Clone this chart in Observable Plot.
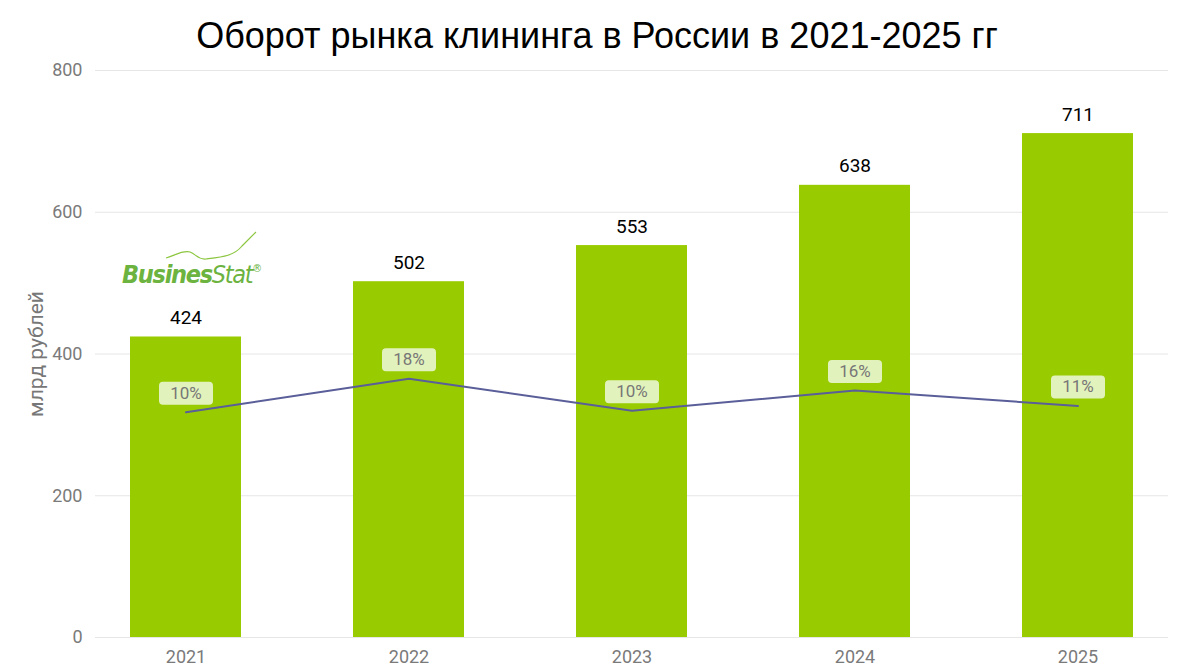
<!DOCTYPE html>
<html><head><meta charset="utf-8">
<script src="https://cdn.jsdelivr.net/npm/d3@7"></script>
<script src="https://cdn.jsdelivr.net/npm/@observablehq/plot@0.6"></script>
<style>
body{margin:0;background:#fff;width:1180px;height:672px;overflow:hidden;}
#wrap{position:relative;width:1180px;}
#title{height:60px;font-family:"Liberation Sans",Arial,sans-serif;font-size:36px;color:#000;text-align:center;line-height:72px;padding-left:14px;box-sizing:border-box;white-space:nowrap;}
#logo{position:absolute;left:122px;top:254px;font-family:"DejaVu Sans Condensed","DejaVu Sans",sans-serif;font-style:italic;font-weight:bold;font-size:25px;line-height:30px;color:#6cb33f;letter-spacing:-1.3px;}
#logo .s{font-weight:normal;color:#6cb33f;}
#logo sup{font-size:11px;font-style:normal;font-weight:normal;vertical-align:11px;letter-spacing:0;}
#logo svg{position:absolute;left:0;top:-24px;}
[aria-label="y-axis label"] text{font-size:21px;fill:#777;}
</style></head>
<body><div id="wrap"><div id="title">Оборот рынка клининга в России в 2021-2025 гг</div><div id="chart"></div>
<div id="logo"><svg width="140" height="40"><path d="M44 28 C52 26, 60 20, 68 22 C74 24, 76 30, 84 29 C100 27, 112 26, 120 16 C126 10, 130 6, 134 2" fill="none" stroke="#8cc63f" stroke-width="1.2"/></svg>Busines<span class="s">Stat</span><sup>®</sup></div>
</div>
<script>
const years = ["2021","2022","2023","2024","2025"];
const turnover = [424, 502, 553, 638, 711];
const growthPct = [9.8, 18.4, 10.2, 15.4, 11.4];
const growthLabels = ["10%","18%","10%","16%","11%"];
const yTicks = [0, 200, 400, 600, 800];
// secondary (percentage) axis mapped onto the primary axis range
const pctDomain = [-48, 97.5];
const yDomain = [0, 800];
const pctToY = d3.scaleLinear().domain(pctDomain).range(yDomain);

const data = years.map((y, i) => ({year: y, value: turnover[i], pct: growthPct[i], pctY: pctToY(growthPct[i]), pctLabel: growthLabels[i]}));

const boxSymbol = {
  draw(context) {
    const w = 54, h = 23, r = 4, x0 = -w/2, y0 = -h/2, x1 = w/2, y1 = h/2;
    context.moveTo(x0 + r, y0);
    context.lineTo(x1 - r, y0);
    context.arcTo(x1, y0, x1, y0 + r, r);
    context.lineTo(x1, y1 - r);
    context.arcTo(x1, y1, x1 - r, y1, r);
    context.lineTo(x0 + r, y1);
    context.arcTo(x0, y1, x0, y1 - r, r);
    context.lineTo(x0, y0 + r);
    context.arcTo(x0, y0, x0 + r, y0, r);
    context.closePath();
  }
};

const chart = Plot.plot({
  width: 1180,
  height: 612,
  marginTop: 10,
  marginBottom: 35,
  marginLeft: 95,
  marginRight: 12,
  style: {fontFamily: "Roboto, sans-serif", background: "#fff"},
  x: {domain: years, paddingInner: 0.504, paddingOuter: 0.152, label: null},
  y: {domain: yDomain, ticks: yTicks, label: "млрд рублей"},
  marks: [
    Plot.gridY(yTicks, {stroke: "#e6e6e6", strokeOpacity: 1, strokeWidth: 1}),
    Plot.barY(data, {x: "year", y: "value", fill: "#99cc00"}),
    Plot.axisY(yTicks, {tickSize: 0, tickPadding: 13, fontSize: 18, fill: "#7a7a7a", label: "млрд рублей", labelAnchor: "center", labelArrow: "none", labelOffset: 67, color: "#777"}),
    Plot.axisX({tickSize: 0, tickPadding: 13, fontSize: 18, fill: "#7a7a7a", label: null}),
    Plot.text(data, {x: "year", y: "value", text: d => String(d.value), dy: -19, fontSize: 19, fontWeight: 400, fill: "#000"}),
    Plot.line(data, {x: "year", y: "pctY", stroke: "#5a5e99", strokeWidth: 2}),
    Plot.dot(data, {x: "year", y: "pctY", symbol: boxSymbol, r: 10, fill: "#e2f2bd", stroke: "none", dy: -19}),
    Plot.text(data, {x: "year", y: "pctY", text: "pctLabel", dy: -19, fontSize: 17, fill: "#777"})
  ]
});
document.getElementById("chart").appendChild(chart);
</script></body></html>
